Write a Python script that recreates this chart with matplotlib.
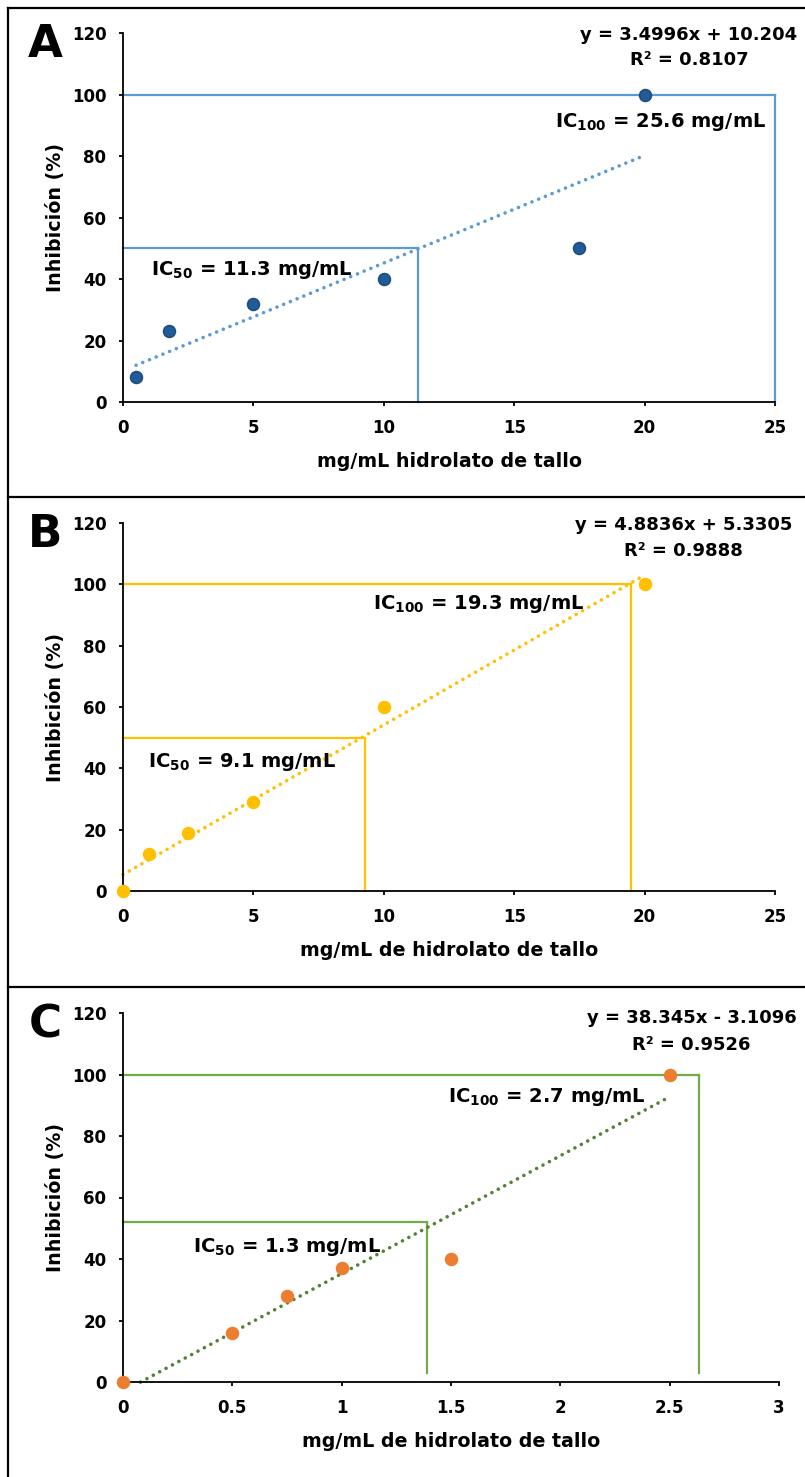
import numpy as np
import matplotlib
matplotlib.use("Agg")
import matplotlib.pyplot as plt
from matplotlib.lines import Line2D

plt.rcParams["font.family"] = ["DejaVu Sans"]
plt.rcParams["font.weight"] = "bold"
plt.rcParams["mathtext.fontset"] = "custom"
plt.rcParams["mathtext.rm"] = "DejaVu Sans:bold"
plt.rcParams["mathtext.it"] = "DejaVu Sans:bold"
plt.rcParams["mathtext.bf"] = "DejaVu Sans:bold"

# panel A
a_x = [0.5, 1.75, 5, 10, 17.5, 20]
a_y = [8, 23, 32, 40, 50, 100]
a_fit = (3.4996, 10.204)
a_fit_range = (0.5, 20)
a_ic50 = 11.3
a_ic100 = 25.0
a_eq = ["y = 3.4996x + 10.204", "R² = 0.8107"]
a_ic_text = [r"IC$_{50}$ = 11.3 mg/mL", r"IC$_{100}$ = 25.6 mg/mL"]

# panel B
b_x = [0, 1, 2.5, 5, 10, 20]
b_y = [0, 12, 19, 29, 60, 100]
b_fit = (4.8836, 5.3305)
b_fit_range = (0, 20)
b_ic50 = 9.26
b_ic100 = 19.46
b_eq = ["y = 4.8836x + 5.3305", "R² = 0.9888"]
b_ic_text = [r"IC$_{50}$ = 9.1 mg/mL", r"IC$_{100}$ = 19.3 mg/mL"]

# panel C
c_x = [0, 0.5, 0.75, 1, 1.5, 2.5]
c_y = [0, 16, 28, 37, 40, 100]
c_fit = (38.345, -3.1096)
c_fit_range = (0.08, 2.5)
c_ic50 = 1.388
c_ic100 = 2.635
c_eq = ["y = 38.345x - 3.1096", "R² = 0.9526"]
c_ic_text = [r"IC$_{50}$ = 1.3 mg/mL", r"IC$_{100}$ = 2.7 mg/mL"]

W, H = 805, 1477
fig = plt.figure(figsize=(W / 100, H / 100), dpi=100)


def ax_rect(left, right, top, bottom):
    return [left / W, 1 - bottom / H, (right - left) / W, (bottom - top) / H]


def panel(rect, letter, xs, ys, fit, fit_range, xmax, xticks, xlabels,
          ic50, ic50_y, ic100, ic_vbottom, line_col, fit_col, mk_face, mk_edge,
          eq, ic_text, eq_pos, ic50_pos, ic100_pos, xlabel):
    ax = fig.add_axes(rect)
    ax.set_xlim(0, xmax)
    ax.set_ylim(0, 120)
    for s in ["top", "right"]:
        ax.spines[s].set_visible(False)
    for s in ["left", "bottom"]:
        ax.spines[s].set_linewidth(1.3)
    ax.set_xticks(xticks)
    ax.set_xticklabels(xlabels)
    ax.set_yticks(range(0, 121, 20))
    ax.tick_params(length=3, width=1.3, labelsize=12, pad=9)
    for lab in ax.get_xticklabels() + ax.get_yticklabels():
        lab.set_fontweight("bold")

    # IC guide lines
    ax.plot([0, ic100], [100, 100], color=line_col, lw=1.6, clip_on=False)
    ax.plot([ic100, ic100], [ic_vbottom, 100], color=line_col, lw=1.6, clip_on=False)
    ax.plot([0, ic50], [ic50_y, ic50_y], color=line_col, lw=1.6, clip_on=False)
    ax.plot([ic50, ic50], [ic_vbottom, ic50_y], color=line_col, lw=1.6, clip_on=False)

    # trend line (dotted, Excel style)
    tx = np.linspace(fit_range[0], fit_range[1], 50)
    ty = fit[0] * tx + fit[1]
    ax.plot(tx, ty, color=fit_col, lw=2.6, linestyle=(0, (0.01, 2.0)),
            dash_capstyle="round", clip_on=False)

    ax.plot(xs, ys, "o", ms=8.5, mfc=mk_face, mec=mk_edge, mew=1.2,
            clip_on=False, zorder=5)

    ax.text(eq_pos[0], eq_pos[1], eq[0], ha="center", va="center",
            fontsize=13, fontweight="bold", clip_on=False)
    ax.text(eq_pos[0], eq_pos[2], eq[1], ha="center", va="center",
            fontsize=13, fontweight="bold", clip_on=False)
    ax.text(ic50_pos[0], ic50_pos[1], ic_text[0], ha="center", va="center",
            fontsize=14, fontweight="bold")
    ax.text(ic100_pos[0], ic100_pos[1], ic_text[1], ha="center", va="center",
            fontsize=14, fontweight="bold")

    ax.set_ylabel("Inhibición (%)", fontsize=13.7, fontweight="bold", labelpad=5)
    ax.set_xlabel(xlabel, fontsize=13.7, fontweight="bold", labelpad=11)
    ax.text(-0.119, 0.968, letter, transform=ax.transAxes, ha="center",
            va="center", fontsize=32.5, fontweight="bold")
    return ax


panel(ax_rect(123, 775, 33, 402), "A", a_x, a_y, a_fit, a_fit_range, 25,
      [0, 5, 10, 15, 20, 25], ["0", "5", "10", "15", "20", "25"],
      a_ic50, 50, a_ic100, 0, "#5B9BD5", "#5B9BD5", "#1F5C99", "#1F4E79",
      a_eq, a_ic_text, (21.7, 119.2, 111.2), (4.93, 43), (20.6, 91),
      "mg/mL hidrolato de tallo")

panel(ax_rect(123, 775, 523, 891), "B", b_x, b_y, b_fit, b_fit_range, 25,
      [0, 5, 10, 15, 20, 25], ["0", "5", "10", "15", "20", "25"],
      b_ic50, 50, b_ic100, 0, "#FFC000", "#FFC000", "#FFC000", "#FFC000",
      b_eq, b_ic_text, (21.5, 119.3, 110.9), (4.58, 42), (13.63, 93.6),
      "mg/mL de hidrolato de tallo")

panel(ax_rect(123, 779, 1013, 1382), "C", c_x, c_y, c_fit, c_fit_range, 3,
      [0, 0.5, 1, 1.5, 2, 2.5, 3], ["0", "0.5", "1", "1.5", "2", "2.5", "3"],
      c_ic50, 52, c_ic100, 3, "#70AD47", "#548235", "#ED7D31", "#ED7D31",
      c_eq, c_ic_text, (2.6, 118.4, 109.6), (0.75, 43.9), (1.94, 92.7),
      "mg/mL de hidrolato de tallo")

# panel frames
for yy in [8, 497, 987]:
    fig.add_artist(Line2D([8 / W, 1], [1 - yy / H, 1 - yy / H], color="black", lw=1.6))
fig.add_artist(Line2D([8 / W, 8 / W], [1 - 8 / H, 0], color="black", lw=1.6))

fig.savefig("out.png", dpi=100)
